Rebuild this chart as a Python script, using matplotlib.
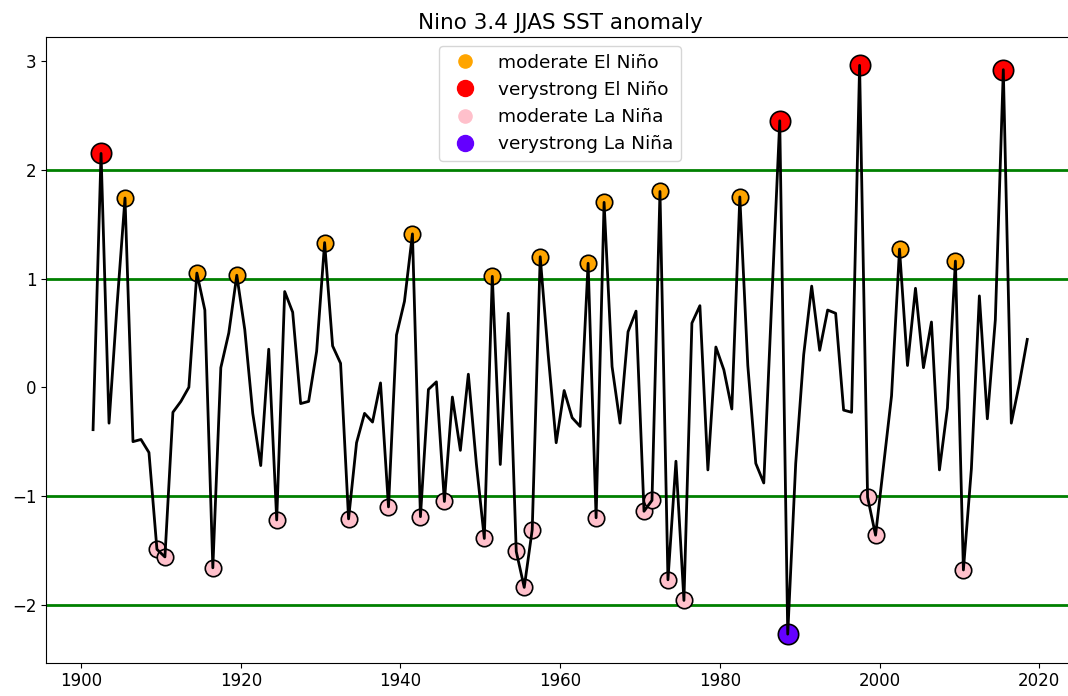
import numpy as np
import matplotlib
matplotlib.use("Agg")
import matplotlib.pyplot as plt
from matplotlib.lines import Line2D

plt.rcParams["font.size"] = 12

# JJAS mean Nino 3.4 SST anomaly, one value per year
years = np.arange(1901, 2019)
anomaly = np.array([
    -0.39, 2.15, -0.33, 0.75, 1.74, -0.50, -0.48, -0.60, -1.49, -1.56,  # 1901-1910
    -0.23, -0.13, 0.00, 1.05, 0.71, -1.66, 0.18, 0.50, 1.03, 0.53,     # 1911-1920
    -0.24, -0.72, 0.35, -1.22, 0.88, 0.69, -0.15, -0.13, 0.33, 1.33,   # 1921-1930
    0.38, 0.22, -1.21, -0.51, -0.24, -0.32, 0.04, -1.10, 0.48, 0.79,   # 1931-1940
    1.41, -1.19, -0.02, 0.05, -1.05, -0.09, -0.58, 0.12, -0.70, -1.39, # 1941-1950
    1.02, -0.71, 0.68, -1.51, -1.84, -1.31, 1.20, 0.30, -0.51, -0.03,  # 1951-1960
    -0.28, -0.36, 1.14, -1.20, 1.70, 0.19, -0.33, 0.51, 0.70, -1.14,   # 1961-1970
    -1.04, 1.80, -1.77, -0.68, -1.96, 0.59, 0.75, -0.76, 0.37, 0.16,   # 1971-1980
    -0.20, 1.75, 0.20, -0.70, -0.88, 0.80, 2.45, -2.27, -0.70, 0.30,   # 1981-1990
    0.93, 0.34, 0.71, 0.68, -0.21, -0.23, 2.96, -1.01, -1.36, -0.72,   # 1991-2000
    -0.08, 1.27, 0.20, 0.91, 0.18, 0.60, -0.76, -0.19, 1.16, -1.68,    # 2001-2010
    -0.75, 0.84, -0.29, 0.62, 2.92, -0.33, 0.03, 0.44,                 # 2011-2018
])

thresholds = [-2, -1, 1, 2]

# season centre on the time axis
t = years + 0.5

mod_nino = (anomaly > 1) & (anomaly <= 2)
vs_nino = anomaly > 2
mod_nina = (anomaly < -1) & (anomaly >= -2)
vs_nina = anomaly < -2

colors = {
    "moderate El Niño": "orange",
    "verystrong El Niño": "red",
    "moderate La Niña": "pink",
    "verystrong La Niña": "#6400ff",
}

fig = plt.figure(figsize=(10.68, 6.96), dpi=100)
# right edge of the axes runs just past the figure border
ax = fig.add_axes([0.0434, 0.048, 0.9622, 0.899])
ax.spines["right"].set_visible(False)

for th in thresholds:
    ax.axhline(th, color="green", linewidth=2, zorder=1)

ax.scatter(t[mod_nino], anomaly[mod_nino], s=140, color=colors["moderate El Niño"],
           edgecolors="k", linewidths=1.2, zorder=2)
ax.scatter(t[vs_nino], anomaly[vs_nino], s=215, color=colors["verystrong El Niño"],
           edgecolors="k", linewidths=1.2, zorder=2)
ax.scatter(t[mod_nina], anomaly[mod_nina], s=140, color=colors["moderate La Niña"],
           edgecolors="k", linewidths=1.2, zorder=2)
ax.scatter(t[vs_nina], anomaly[vs_nina], s=215, color=colors["verystrong La Niña"],
           edgecolors="k", linewidths=1.2, zorder=2)

ax.plot(t, anomaly, color="k", linewidth=2, zorder=3)

handles = [
    Line2D([], [], linestyle="none", marker="o", markersize=9.5,
           color=colors["moderate El Niño"], label="moderate El Niño"),
    Line2D([], [], linestyle="none", marker="o", markersize=11.5,
           color=colors["verystrong El Niño"], label="verystrong El Niño"),
    Line2D([], [], linestyle="none", marker="o", markersize=9.5,
           color=colors["moderate La Niña"], label="moderate La Niña"),
    Line2D([], [], linestyle="none", marker="o", markersize=11.5,
           color=colors["verystrong La Niña"], label="verystrong La Niña"),
]
ax.legend(handles=handles, loc="upper center", fontsize=13.3)

ax.set_title("Nino 3.4 JJAS SST anomaly", fontsize=15.5)

fig.savefig("out.png", dpi=100)
